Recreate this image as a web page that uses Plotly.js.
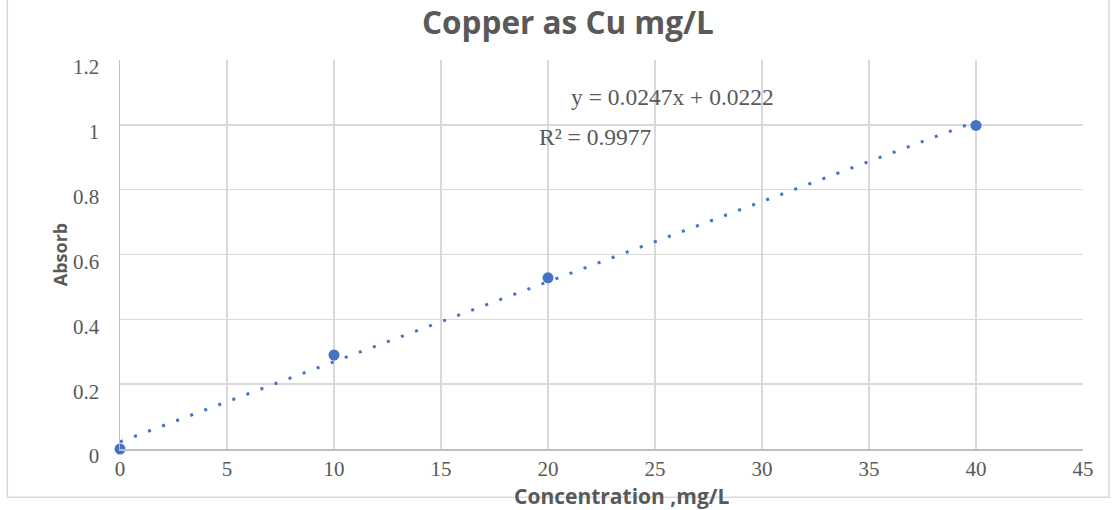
<!DOCTYPE html>
<html>
<head>
<meta charset="utf-8">
<script src="https://cdn.plot.ly/plotly-3.0.1.min.js"></script>
<style>
html,body{margin:0;padding:0;background:#fff;}
#chart{width:1118px;height:510px;}
</style>
</head>
<body>
<div id="chart"></div>
<script>
// Data
const concentration = [0, 10, 20, 40];
const absorbance = [0.0, 0.29, 0.528, 0.998];
// Linear trendline as shown in the chart (y = 0.0247x + 0.0222)
const trendSlope = 0.0247;
const trendIntercept = 0.0222;
const trendX = [0, 40];
const trendY = trendX.map(x => trendSlope * x + trendIntercept);
const xTicks = [0, 5, 10, 15, 20, 25, 30, 35, 40, 45];
const yTicks = [0, 0.2, 0.4, 0.6, 0.8, 1, 1.2];
const equationText = 'y = 0.0247x + 0.0222';
const r2Text = 'R² = 0.9977';
const chartTitle = 'Copper as Cu mg/L';
const xTitle = 'Concentration ,mg/L';
const yTitle = 'Absorb';

const blue = '#4472C4';
const grey = '#595959';
const serif = 'Liberation Serif, Times New Roman, serif';
const sans = 'Open Sans, Lato, sans-serif';

const traces = [
  {
    x: trendX, y: trendY, mode: 'lines', type: 'scatter',
    line: {color: blue, width: 3, dash: '3px,12px'},
    hoverinfo: 'skip', showlegend: false, cliponaxis: false
  },
  {
    x: concentration, y: absorbance, mode: 'markers', type: 'scatter',
    marker: {color: blue, size: 11, symbol: 'circle'},
    showlegend: false, cliponaxis: false
  }
];

const layout = {
  width: 1118, height: 510,
  margin: {l: 120, r: 35, t: 60, b: 61},
  paper_bgcolor: '#ffffff', plot_bgcolor: '#ffffff',
  title: {
    text: '<b>' + chartTitle + '</b>',
    font: {family: sans, size: 31.5, color: grey},
    x: 0.508, xref: 'container', xanchor: 'center', y: 0.955, yanchor: 'middle'
  },
  xaxis: {
    range: [0, 45], tickvals: xTicks, ticktext: xTicks.map(String),
    showgrid: true, gridcolor: '#d9d9d9', gridwidth: 1.5,
    showline: true, linecolor: '#bfbfbf', linewidth: 1.5,
    zeroline: false, ticks: '',
    tickfont: {family: serif, size: 21, color: grey},
    ticklabelstandoff: 0,
    fixedrange: true
  },
  yaxis: {
    range: [0, 1.2], tickvals: yTicks, ticktext: yTicks.map(String),
    showgrid: true, gridcolor: '#d9d9d9', gridwidth: 1.5,
    showline: true, linecolor: '#bfbfbf', linewidth: 1.5,
    zeroline: false, ticks: '',
    tickfont: {family: serif, size: 21, color: grey},
    ticklabelstandoff: 15,
    ticklabelshift: 7,
    title: {
      text: '<b>' + yTitle + '</b>',
      font: {family: sans, size: 18, color: grey},
      standoff: 0
    },
    fixedrange: true
  },
  shapes: [
    {type: 'rect', xref: 'paper', yref: 'paper', x0: -0.117, x1: 1.027, y0: -0.124, y1: 1.2,
     line: {color: '#d9d9d9', width: 1.5}, fillcolor: 'rgba(0,0,0,0)', layer: 'below'}
  ],
  annotations: [
    {text: '<b>' + xTitle + '</b>', x: 0.521, y: -0.122, xref: 'paper', yref: 'paper',
     xanchor: 'center', yanchor: 'middle', showarrow: false,
     font: {family: sans, size: 21, color: grey}},
    {text: equationText, x: 25.8, y: 1.086, xref: 'x', yref: 'y', showarrow: false,
     font: {family: serif, size: 23.5, color: grey}},
    {text: r2Text, x: 22.24, y: 0.962, xref: 'x', yref: 'y', showarrow: false,
     font: {family: serif, size: 23.5, color: grey}}
  ]
};

Plotly.newPlot('chart', traces, layout, {displayModeBar: false, staticPlot: true});
</script>
</body>
</html>
